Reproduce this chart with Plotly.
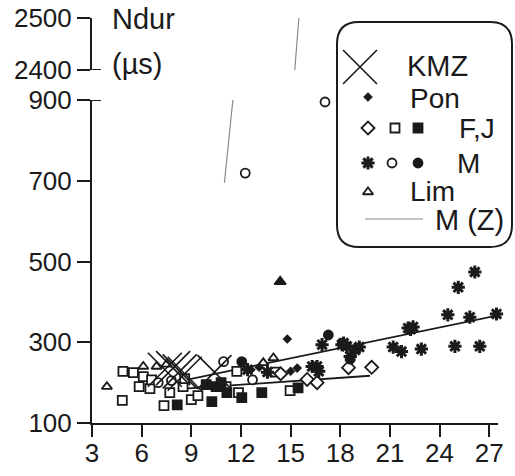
import plotly.graph_objects as go

# ---------------- data ----------------
kmz_x = [7.4, 7.9, 8.3, 8.6, 10.4]
kmz_y = [232, 236, 228, 222, 226]

pon_x = [12.6, 13.1, 14.8, 15.0, 15.4]
pon_y = [232, 238, 308, 228, 236]

fj_dia_x = [14.4, 16.0, 16.6, 18.5, 19.9]
fj_dia_y = [222, 208, 200, 237, 238]

fj_sqo_x = [4.87, 4.83, 5.5, 5.85, 6.1, 6.5, 6.6, 7.35, 7.7, 8.5, 8.6, 9.0, 9.4, 11.1, 11.75, 11.85, 14.06, 14.97]
fj_sqo_y = [228, 156, 225, 190, 215, 185, 207, 143, 175, 190, 210, 158, 168, 190, 228, 175, 226, 180]

fj_sqf_x = [8.15, 9.9, 10.24, 10.5, 10.8, 11.15, 12.05, 13.26, 15.45]
fj_sqf_y = [145, 195, 153, 190, 200, 175, 163, 175, 187]

m_ast_x = [26.13, 25.13, 24.5, 25.83, 27.44, 24.93, 26.43, 22.9, 21.7, 21.2, 22.1, 22.4, 22.25,
           19.15, 18.1, 18.4, 18.6, 16.9, 16.3, 16.6, 16.7, 18.2, 18.9, 12.4, 13.6]
m_ast_y = [474, 436, 368, 362, 370, 290, 290, 283, 277, 288, 335, 338, 332,
           288, 294, 290, 265, 294, 240, 240, 228, 298, 281, 232, 226]

m_cio_x = [10.95, 12.26, 17.08, 12.7, 7.0, 7.8]
m_cio_y = [252, 719, 895, 207, 200, 205]

m_cif_x = [12.05, 17.28, 18.6]
m_cif_y = [252, 318, 258]

lim_x = [3.9, 6.1, 6.9, 7.5, 13.35, 13.96]
lim_y = [190, 240, 240, 245, 249, 261]

lim_fill_x = [14.37]
lim_fill_y = [450]

fit_m_x = [8.7, 27.7]
fit_m_y = [207, 368]

fit_fj_x = [8.6, 19.8]
fit_fj_y = [185, 217]

mz_x = [11.0, 15.5]
mz_y = [695, 2500]

x_ticks = [3, 6, 9, 12, 15, 18, 21, 24, 27]
y_ticks_low = [100, 300, 500, 700, 900]
y_ticks_high = [2400, 2500]

# ---------------- styling ----------------
FONT = "Liberation Sans"
INK = "#1a1a1a"
W, H = 515, 476
L, R, T, B = 92, 17, 18, 53
PW, PH = W - L - R, H - T - B

fig = go.Figure()


def pts(x, y, symbol, size, filled, lw=1.8, xa="x", ya="y"):
    is_open = symbol.endswith("-open")
    fig.add_trace(go.Scatter(
        x=x, y=y, mode="markers", xaxis=xa, yaxis=ya, showlegend=False,
        marker=dict(symbol=symbol, size=size,
                    color=INK if (filled or is_open) else "white",
                    line=dict(color=INK, width=lw)),
        cliponaxis=False, hoverinfo="skip"))


def line(x, y, color=INK, width=1.8, ya="y"):
    fig.add_trace(go.Scatter(x=x, y=y, mode="lines", yaxis=ya, showlegend=False,
                             line=dict(color=color, width=width), hoverinfo="skip"))


# regression lines
line(fit_m_x, fit_m_y)
line(fit_fj_x, fit_fj_y)
# M (Z) grey line on both axis segments
line(mz_x, mz_y, color="#8a8a8a", width=1.2)
line(mz_x, mz_y, color="#8a8a8a", width=1.2, ya="y2")

pts(fj_sqo_x, fj_sqo_y, "square", 9, False)
pts(fj_sqf_x, fj_sqf_y, "square", 9, True)
pts(fj_dia_x, fj_dia_y, "diamond", 10, False)
pts(lim_x, lim_y, "triangle-up", 9, False)
pts(lim_fill_x, lim_fill_y, "triangle-up", 10, True)
pts(pon_x, pon_y, "diamond", 7, True, lw=0.5)
pts(m_cio_x, m_cio_y, "circle", 9, False)
pts(m_cif_x, m_cif_y, "circle", 9, True)
pts(m_ast_x, m_ast_y, "asterisk-open", 11, False, lw=3)
pts(kmz_x, kmz_y, "x-thin-open", 34, False, lw=1.6)

# ---------------- custom legend (pixel overlay axes) ----------------
leg_marks = [
    (360, 67, "x-thin-open", 34, False, 1.6),
    (368, 97, "diamond", 7, True, 0.5),
    (368, 128, "diamond", 10, False, 1.8),
    (395, 128, "square", 9, False, 1.8),
    (418, 128, "square", 9, True, 1.8),
    (368, 163, "asterisk-open", 11, False, 3),
    (392, 163, "circle", 9, False, 1.8),
    (418, 163, "circle", 9, True, 1.8),
    (368, 192, "triangle-up", 9, False, 1.8),
]
for (mx, my, sym, sz, fill, lw) in leg_marks:
    pts([mx], [my], sym, sz, fill, lw=lw, xa="x3", ya="y3")
fig.add_trace(go.Scatter(x=[365, 423], y=[219, 219], mode="lines", xaxis="x3", yaxis="y3",
                         showlegend=False, line=dict(color="#8a8a8a", width=1.2),
                         hoverinfo="skip"))


def px2paper(px, py):
    return (px - L) / PW, (H - B - py) / PH


def P(px, py):
    a, b = px2paper(px, py)
    return f"{a:.5f},{b:.5f}"


# rounded legend box
bx0, by0, bx1, by1, rr = 337, 22, 512, 247, 22
path = (f"M {P(bx0 + rr, by0)} L {P(bx1 - rr, by0)} "
        f"Q {P(bx1, by0)} {P(bx1, by0 + rr)} L {P(bx1, by1 - rr)} "
        f"Q {P(bx1, by1)} {P(bx1 - rr, by1)} L {P(bx0 + rr, by1)} "
        f"Q {P(bx0, by1)} {P(bx0, by1 - rr)} L {P(bx0, by0 + rr)} "
        f"Q {P(bx0, by0)} {P(bx0 + rr, by0)} Z")
shapes = [dict(type="path", xref="paper", yref="paper", path=path,
               line=dict(color=INK, width=2), fillcolor="rgba(0,0,0,0)")]

# axis-break inner ticks
for ya, yv in (("y", 900), ("y2", 2400)):
    shapes.append(dict(type="line", xref="paper", yref=ya, xsizemode="pixel", xanchor=0,
                       x0=0, x1=9, y0=yv, y1=yv, line=dict(color=INK, width=2)))

leg_texts = [("KMZ", 405, 66, 29), ("Pon", 408, 98, 28), ("F,J", 457, 128, 28),
             ("M", 455, 163, 28), ("Lim", 408, 191, 28), ("M (Z)", 433, 220, 29)]
annotations = []
for t, tx, ty, fs in leg_texts:
    a, b = px2paper(tx, ty)
    annotations.append(dict(text=t, x=a, y=b, xref="paper", yref="paper",
                            xanchor="left", yanchor="middle", showarrow=False,
                            font=dict(family=FONT, size=fs, color=INK)))
for t, tx, ty in (("Ndur", 110, 19), ("(µs)", 110, 64)):
    a, b = px2paper(tx, ty)
    annotations.append(dict(text=t, x=a, y=b, xref="paper", yref="paper",
                            xanchor="left", yanchor="middle", showarrow=False,
                            font=dict(family=FONT, size=29, color=INK)))

axis_common = dict(showline=True, linecolor=INK, linewidth=2, ticks="outside",
                   tickcolor=INK, tickwidth=2, showgrid=False, zeroline=False,
                   automargin=False,
                   tickfont=dict(family=FONT, size=26, color=INK))

low_top = (H - B - 100) / PH
high_bot = (H - B - 70) / PH

fig.update_layout(
    width=W, height=H, margin=dict(l=L, r=R, t=T, b=B, autoexpand=False),
    paper_bgcolor="white", plot_bgcolor="rgba(0,0,0,0)", showlegend=False,
    xaxis=dict(range=[3, 3 + PW / 16.55], tickvals=x_ticks, ticklen=12,
               ticklabelstandoff=-6, anchor="y", domain=[0, 1], **axis_common),
    yaxis=dict(range=[100, 900], tickvals=y_ticks_low, ticklen=13,
               domain=[0, low_top], anchor="x", **axis_common),
    yaxis2=dict(range=[2400, 2500], tickvals=y_ticks_high, ticklen=13,
                domain=[high_bot, 1], anchor="x", **axis_common),
    xaxis3=dict(range=[L, W - R], domain=[0, 1], anchor="y3", visible=False),
    yaxis3=dict(range=[H - B, T], domain=[0, 1], anchor="x3", visible=False),
    shapes=shapes, annotations=annotations,
)

fig.write_html("out.html")
